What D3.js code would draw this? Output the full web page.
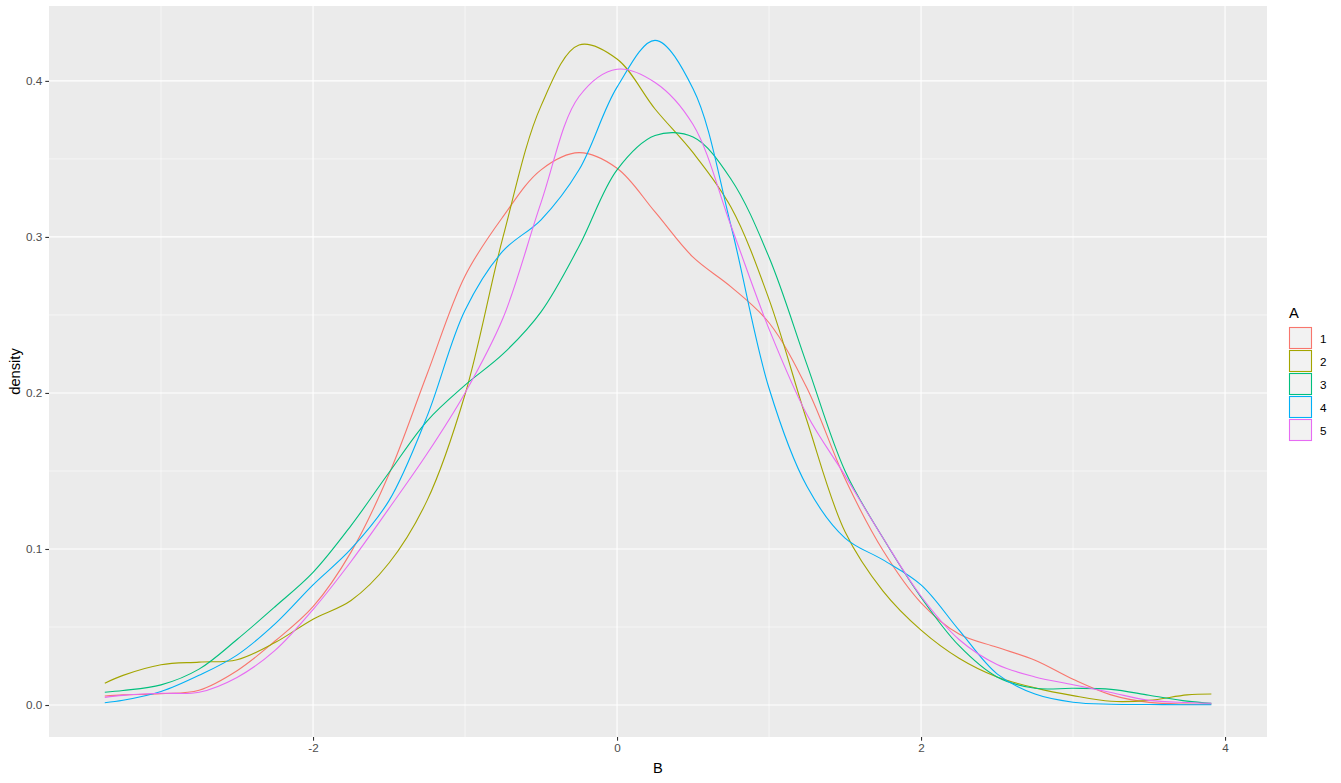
<!DOCTYPE html>
<html>
<head>
<meta charset="utf-8">
<script src="https://cdn.jsdelivr.net/npm/d3@7"></script>
<style>
  body { margin: 0; background: #fff; }
  text { font-family: "Liberation Sans", Arial, sans-serif; }
</style>
</head>
<body>
<div class="canvas"></div>
<script>
const xs = [-3.37, -3.25, -3, -2.75, -2.5, -2.25, -2, -1.75, -1.5, -1.25, -1, -0.75, -0.5, -0.25,
  0, 0.25, 0.5, 0.75, 1, 1.25, 1.5, 1.75, 2, 2.25, 2.5, 2.75, 3, 3.25, 3.5, 3.75, 3.91];

const groups = ['1', '2', '3', '4', '5'];
const colors = ['#F8766D', '#A3A500', '#00BF7D', '#00B0F6', '#E76BF3'];

const dens1 = [0.0058, 0.0065, 0.0073, 0.0095, 0.022, 0.041, 0.063, 0.098, 0.148, 0.212, 0.275, 0.313, 0.343, 0.354,
  0.344, 0.316, 0.287, 0.268, 0.245, 0.203, 0.145, 0.099, 0.0655, 0.0455, 0.037, 0.0287, 0.0165, 0.0065, 0.0017, 0.0006, 0.0006];
const dens2 = [0.014, 0.019, 0.0258, 0.0275, 0.029, 0.04, 0.055, 0.067, 0.091, 0.131, 0.199, 0.3, 0.384, 0.423,
  0.414, 0.382, 0.354, 0.319, 0.26, 0.182, 0.111, 0.073, 0.048, 0.03, 0.018, 0.011, 0.006, 0.0024, 0.003, 0.0065, 0.0071];
const dens3 = [0.0082, 0.0093, 0.0129, 0.023, 0.042, 0.063, 0.085, 0.115, 0.149, 0.182, 0.205, 0.225, 0.252, 0.294,
  0.343, 0.365, 0.364, 0.337, 0.287, 0.218, 0.15, 0.107, 0.069, 0.038, 0.018, 0.0107, 0.0107, 0.01, 0.0063, 0.0025, 0.0011];
const dens4 = [0.0015, 0.003, 0.0086, 0.019, 0.032, 0.052, 0.077, 0.1, 0.131, 0.185, 0.253, 0.291, 0.311, 0.343,
  0.396, 0.426, 0.395, 0.307, 0.203, 0.14, 0.107, 0.093, 0.077, 0.048, 0.02, 0.007, 0.0018, 0.0005, 0.0003, 0.0002, 0.0002];
const dens5 = [0.0049, 0.0062, 0.0075, 0.0082, 0.0177, 0.035, 0.0612, 0.092, 0.126, 0.161, 0.2, 0.248, 0.322, 0.39,
  0.4075, 0.399, 0.372, 0.307, 0.241, 0.186, 0.147, 0.107, 0.0697, 0.042, 0.026, 0.018, 0.013, 0.008, 0.003, 0.0016, 0.0011];

const xMajor = [-2, 0, 2, 4];
const xMinor = [-3, -1, 1, 3];
const yMajor = [0, 0.1, 0.2, 0.3, 0.4];
const yMinor = [0.05, 0.15, 0.25, 0.35];

const series = [dens1, dens2, dens3, dens4, dens5];

const width = 1341, height = 783;
const panel = { left: 49, right: 1267, top: 6, bottom: 737 };

const svg = d3.select('.canvas').append('svg').attr('width', width).attr('height', height);

const x = d3.scaleLinear().domain([-3.737, 4.276]).range([panel.left, panel.right]);
const y = d3.scaleLinear().domain([-0.0205, 0.448]).range([panel.bottom, panel.top]);

// panel background
svg.append('rect')
  .attr('x', panel.left).attr('y', panel.top)
  .attr('width', panel.right - panel.left).attr('height', panel.bottom - panel.top)
  .attr('fill', '#EBEBEB');

const grid = svg.append('g');
grid.selectAll('.vminor').data(xMinor).enter().append('line')
  .attr('x1', d => x(d)).attr('x2', d => x(d)).attr('y1', panel.top).attr('y2', panel.bottom)
  .attr('stroke', '#fff').attr('stroke-width', 0.55);
grid.selectAll('.hminor').data(yMinor).enter().append('line')
  .attr('y1', d => y(d)).attr('y2', d => y(d)).attr('x1', panel.left).attr('x2', panel.right)
  .attr('stroke', '#fff').attr('stroke-width', 0.55);
grid.selectAll('.vmajor').data(xMajor).enter().append('line')
  .attr('x1', d => x(d)).attr('x2', d => x(d)).attr('y1', panel.top).attr('y2', panel.bottom)
  .attr('stroke', '#fff').attr('stroke-width', 1.1);
grid.selectAll('.hmajor').data(yMajor).enter().append('line')
  .attr('y1', d => y(d)).attr('y2', d => y(d)).attr('x1', panel.left).attr('x2', panel.right)
  .attr('stroke', '#fff').attr('stroke-width', 1.1);

// density lines
const line = d3.line()
  .x((d, i) => x(xs[i]))
  .y(d => y(d))
  .curve(d3.curveCatmullRom.alpha(0.5));

svg.append('g').selectAll('path').data(series).enter().append('path')
  .attr('d', line)
  .attr('fill', 'none')
  .attr('stroke', (d, i) => colors[i])
  .attr('stroke-width', 1.1);

// axes
const xAxis = d3.axisBottom(x).tickValues(xMajor).tickSize(3.7).tickPadding(3).tickFormat(d => String(d));
const yAxis = d3.axisLeft(y).tickValues(yMajor).tickSize(3.7).tickPadding(3).tickFormat(d => d.toFixed(1));

const xAxisGroup = svg.append('g').attr('transform', `translate(0, ${panel.bottom})`).call(xAxis);
const yAxisGroup = svg.append('g').attr('transform', `translate(${panel.left}, 0)`).call(yAxis);

[xAxisGroup, yAxisGroup].forEach(g => {
  g.select('.domain').remove();
  g.selectAll('line').attr('stroke', '#333333').attr('stroke-width', 1.1);
  g.selectAll('text').attr('fill', '#4D4D4D').style('font-size', '11.7px')
    .style('font-family', '"Liberation Sans", Arial, sans-serif');
});

svg.append('text')
  .attr('x', (panel.left + panel.right) / 2).attr('y', 773)
  .attr('text-anchor', 'middle').attr('fill', '#000').style('font-size', '14.7px')
  .text('B');

svg.append('text')
  .attr('transform', `translate(20, ${(panel.top + panel.bottom) / 2}) rotate(-90)`)
  .attr('text-anchor', 'middle').attr('fill', '#000').style('font-size', '14.7px')
  .text('density');

// legend
const legend = svg.append('g').attr('transform', 'translate(1289, 0)');
legend.append('text').attr('x', 0).attr('y', 318).attr('fill', '#000').style('font-size', '14.7px').text('A');

const keys = legend.selectAll('.key').data(groups).enter().append('g')
  .attr('transform', (d, i) => `translate(0, ${327 + i * 23})`);
keys.append('rect')
  .attr('x', 0.5).attr('y', 0.5).attr('width', 22).attr('height', 21)
  .attr('fill', '#F2F2F2')
  .attr('stroke', (d, i) => colors[i]).attr('stroke-width', 1.1);
keys.append('text')
  .attr('x', 31).attr('y', 15.5)
  .attr('fill', '#000').style('font-size', '11.7px')
  .text(d => d);
</script>
</body>
</html>
